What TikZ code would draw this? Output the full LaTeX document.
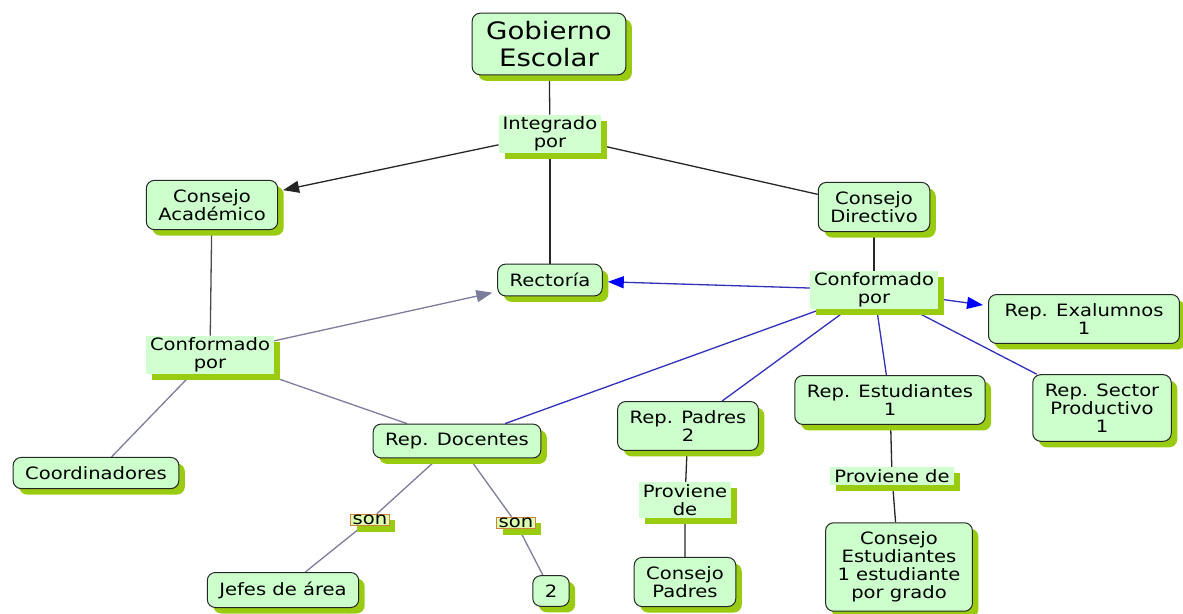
\documentclass[tikz,border=0pt]{standalone}
\usepackage{fontspec}
\setmainfont{DejaVu Sans}[FakeStretch=1.15]
\usetikzlibrary{shadows,backgrounds,arrows.meta}
\definecolor{conceptfill}{HTML}{CCFFCC}
\definecolor{linkfill}{HTML}{D2FFD0}
\definecolor{shadowgreen}{HTML}{99CC11}
\definecolor{edgeblue}{HTML}{3030B8}
\definecolor{edgegray}{HTML}{7C7C9C}
\definecolor{sonline}{HTML}{D08040}
\definecolor{sonfill}{HTML}{DDFFB0}
\begin{document}
\begin{tikzpicture}[x=1pt, y=-1pt, font=\fontsize{17}{18}\selectfont,
  greenshadow/.style={drop shadow={shadow xshift=6pt, shadow yshift=-6pt, fill=shadowgreen, opacity=1}},
  concept/.style={draw=black!85, line width=1pt, rounded corners=8pt, fill=conceptfill, align=center, inner xsep=12pt, inner ysep=9pt, greenshadow},
  linkbox/.style={fill=linkfill, align=center, inner xsep=4pt, inner ysep=2pt, greenshadow},
  sonbox/.style={linkbox, fill=sonfill, draw=sonline, line width=0.8pt, inner xsep=2pt, inner ysep=1pt},
  blk/.style={draw=black!85, line width=1.3pt},
  blu/.style={draw=edgeblue, line width=1.3pt},
  gry/.style={draw=edgegray, line width=1.3pt},
  arrowtip/.style={-{Triangle[length=16pt, width=12pt]}, shorten >=5pt},
  blutip/.style={-{Triangle[length=16pt, width=12pt, color=blue]}, shorten >=5pt}]
\useasboundingbox (0,0) rectangle (1183,613);
% conceptos
\node[concept, font=\fontsize{24}{27}\selectfont, inner xsep=14pt, inner ysep=8pt] (gobierno) at (549,44) {Gobierno\\Escolar};
\node[linkbox] (integrado) at (550,134) {Integrado\\por};
\node[concept] (academico) at (212,205) {Consejo\\Académico};
\node[concept] (directivo) at (874,207) {Consejo\\Directivo};
\node[concept] (rectoria) at (550,280) {Rectoría};
\node[linkbox] (confder) at (874,290) {Conformado\\por};
\node[concept, inner xsep=16pt] (exalumnos) at (1084,319) {Rep. Exalumnos\\1};
\node[linkbox] (confizq) at (210,355) {Conformado\\por};
\node[concept] (estudiantes) at (890,400) {Rep. Estudiantes\\1};
\node[concept] (sector) at (1102,408) {Rep. Sector\\Productivo\\1};
\node[concept] (padres) at (688,426) {Rep. Padres\\2};
\node[concept] (docentes) at (457,441) {Rep. Docentes};
\node[concept] (coordinadores) at (96,473) {Coordinadores};
\node[linkbox] (provest) at (892,476) {Proviene de};
\node[linkbox] (provpad) at (685,500) {Proviene\\de};
\node[sonbox] (sonizq) at (370,520) {son};
\node[sonbox] (sonder) at (516,523) {son};
\node[concept] (jefes) at (283,590) {Jefes de área};
\node[concept] (dos) at (551,591) {2};
\node[concept] (consejopad) at (685,582) {Consejo\\Padres};
\node[concept] (consejoest) at (899,567) {Consejo\\Estudiantes\\1 estudiante\\por grado};
% enlaces
\begin{scope}[on background layer]
\draw[blk] (gobierno) -- (integrado);
\draw[blk, arrowtip] (integrado) -- (academico);
\draw[blk] (integrado) -- (directivo);
\draw[blk] (integrado) -- (rectoria);
\draw[blk, draw=black!70] (academico) -- (confizq);
\draw[gry, arrowtip] (confizq) -- (rectoria);
\draw[gry] (confizq) -- (docentes);
\draw[gry] (confizq) -- (coordinadores);
\draw[blk] (directivo) -- (confder);
\draw[blu, blutip] (confder) -- (rectoria);
\draw[blu, blutip] (confder) -- (exalumnos);
\draw[blu] (confder) -- (docentes);
\draw[blu] (confder) -- (padres);
\draw[blu] (confder) -- (estudiantes);
\draw[blu] (confder) -- (sector);
\draw[gry] (docentes) -- (sonizq) -- (jefes);
\draw[gry] (docentes) -- (sonder) -- (dos);
\draw[blk] (padres) -- (provpad) -- (consejopad);
\draw[blk] (estudiantes) -- (provest) -- (consejoest);
\end{scope}
\end{tikzpicture}
\end{document}
